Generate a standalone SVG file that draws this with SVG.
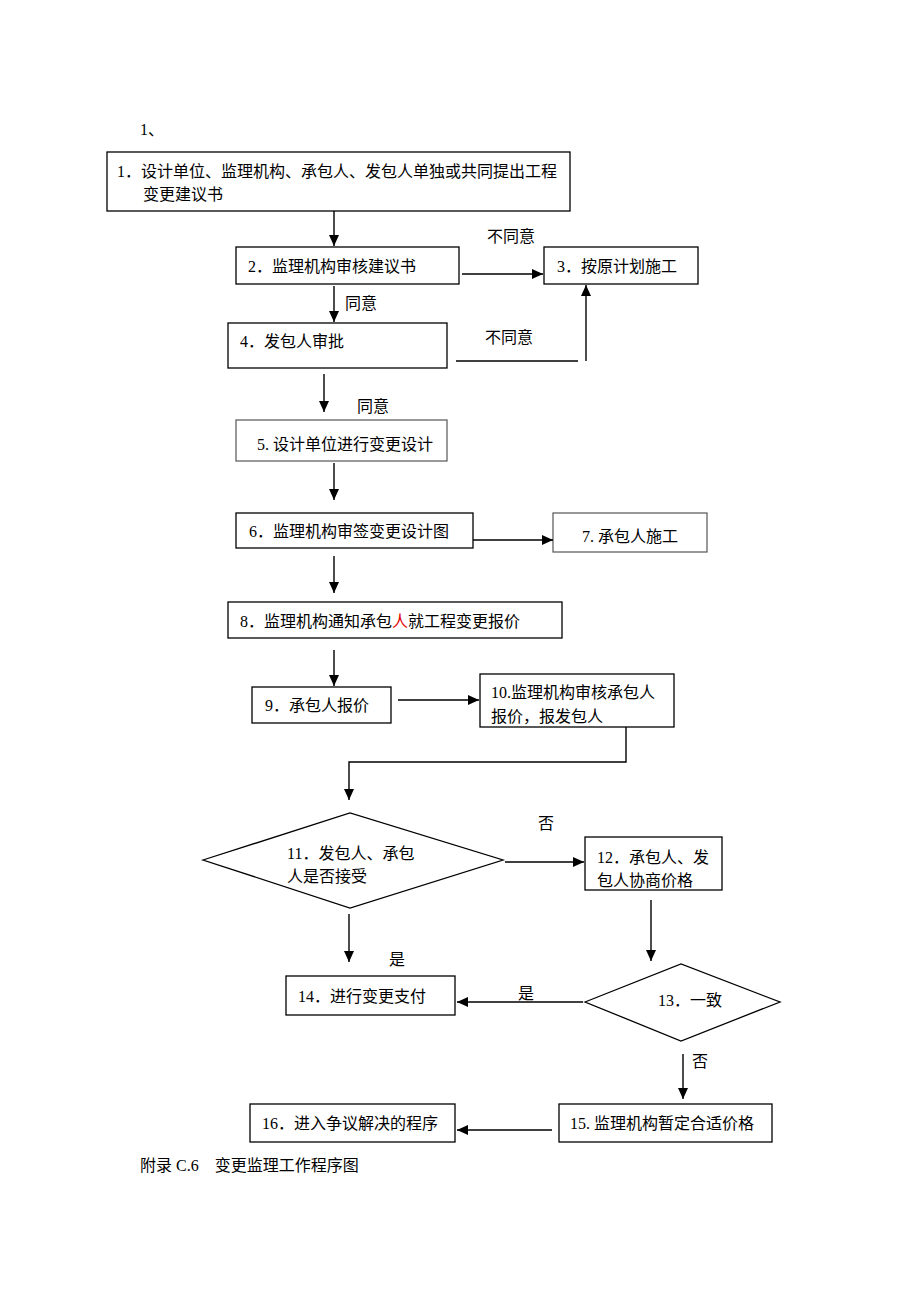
<svg xmlns="http://www.w3.org/2000/svg" width="920" height="1302" viewBox="0 0 920 1302">
<style>
text{font-family:"Liberation Serif","Noto Sans CJK SC",serif;font-size:16px;fill:#000}
.b{fill:#fff;stroke:#000;stroke-width:1.3}
.g{fill:#fff;stroke:#555;stroke-width:1.2}
.c{fill:none;stroke:#000;stroke-width:1.4}
</style>
<defs>
<marker id="ah" markerUnits="userSpaceOnUse" markerWidth="12" markerHeight="10" refX="11" refY="5" orient="auto">
<path d="M0,0 L11,5 L0,10 Z" fill="#000"/>
</marker>
</defs>
<rect width="920" height="1302" fill="#fff"/>
<text x="140" y="135">1、</text>
<g id="n1"><rect class="b" x="107" y="152" width="463" height="59"/><text x="117" y="177">1．设计单位、监理机构、承包人、发包人单独或共同提出工程</text><text x="143" y="200">变更建议书</text></g>
<g id="n2"><rect class="b" x="236" y="247" width="223" height="37"/><text x="248" y="272">2．监理机构审核建议书</text></g>
<g id="n3"><rect class="b" x="544" y="247" width="154" height="37"/><text x="557" y="272">3．按原计划施工</text></g>
<g id="n4"><rect class="b" x="228" y="323" width="219" height="45"/><text x="240" y="347">4．发包人审批</text></g>
<g id="n5"><rect class="g" x="236" y="420" width="211" height="41"/><text x="257" y="450">5. 设计单位进行变更设计</text></g>
<g id="n6"><rect class="b" x="236" y="513" width="237" height="35"/><text x="249" y="537">6．监理机构审签变更设计图</text></g>
<g id="n7"><rect class="g" x="553" y="513" width="154" height="39"/><text x="582" y="542">7. 承包人施工</text></g>
<g id="n8"><rect class="b" x="228" y="602" width="334" height="36"/><text x="240" y="627">8．监理机构通知承包<tspan fill="#e00000">人</tspan>就工程变更报价</text></g>
<g id="n9"><rect class="b" x="252" y="687" width="139" height="36"/><text x="265" y="711">9．承包人报价</text></g>
<g id="n10"><rect class="b" x="480" y="674" width="194" height="53"/><text x="491" y="698">10.监理机构审核承包人</text><text x="491" y="722">报价，报发包人</text></g>
<g id="n11"><polygon class="b" points="203,860 350,813 503,860 350,908"/><text x="287" y="859">11．发包人、承包</text><text x="287" y="882">人是否接受</text></g>
<g id="n12"><rect class="b" x="585" y="837" width="137" height="53"/><text x="597" y="863">12．承包人、发</text><text x="597" y="886">包人协商价格</text></g>
<g id="n13"><polygon class="b" points="585,1002 681,964 780,1002 681,1041"/><text x="658" y="1006">13．一致</text></g>
<g id="n14"><rect class="b" x="286" y="976" width="169" height="39"/><text x="298" y="1002">14．进行变更支付</text></g>
<g id="n15"><rect class="b" x="559" y="1104" width="213" height="38"/><text x="570" y="1129">15. 监理机构暂定合适价格</text></g>
<g id="n16"><rect class="b" x="250" y="1104" width="205" height="38"/><text x="262" y="1129">16．进入争议解决的程序</text></g>
<g id="connectors">
<line class="c" x1="334" y1="211" x2="334" y2="246" marker-end="url(#ah)"/>
<line class="c" x1="462" y1="274" x2="543" y2="274" marker-end="url(#ah)"/>
<line class="c" x1="334" y1="286" x2="334" y2="322" marker-end="url(#ah)"/>
<line class="c" x1="456" y1="361" x2="578" y2="361"/>
<line class="c" x1="586" y1="361" x2="586" y2="285" marker-end="url(#ah)"/>
<line class="c" x1="324" y1="374" x2="324" y2="412" marker-end="url(#ah)"/>
<line class="c" x1="334" y1="463" x2="334" y2="500" marker-end="url(#ah)"/>
<line class="c" x1="473" y1="540" x2="553" y2="540" marker-end="url(#ah)"/>
<line class="c" x1="334" y1="556" x2="334" y2="593" marker-end="url(#ah)"/>
<line class="c" x1="334" y1="650" x2="334" y2="686" marker-end="url(#ah)"/>
<line class="c" x1="398" y1="700" x2="479" y2="700" marker-end="url(#ah)"/>
<polyline class="c" points="626,727 626,762 349,762 349,800" marker-end="url(#ah)"/>
<line class="c" x1="505" y1="862" x2="584" y2="862" marker-end="url(#ah)"/>
<line class="c" x1="651" y1="900" x2="651" y2="961" marker-end="url(#ah)"/>
<line class="c" x1="583" y1="1002" x2="457" y2="1002" marker-end="url(#ah)"/>
<line class="c" x1="349" y1="914" x2="349" y2="962" marker-end="url(#ah)"/>
<line class="c" x1="683" y1="1054" x2="683" y2="1099" marker-end="url(#ah)"/>
<line class="c" x1="552" y1="1130" x2="457" y2="1130" marker-end="url(#ah)"/>
<text x="487" y="242">不同意</text>
<text x="345" y="309">同意</text>
<text x="485" y="343">不同意</text>
<text x="357" y="412">同意</text>
<text x="538" y="829">否</text>
<text x="389" y="965">是</text>
<text x="518" y="999">是</text>
<text x="692" y="1067">否</text>
</g>
<text x="140" y="1171">附录 C.6　变更监理工作程序图</text>
</svg>
